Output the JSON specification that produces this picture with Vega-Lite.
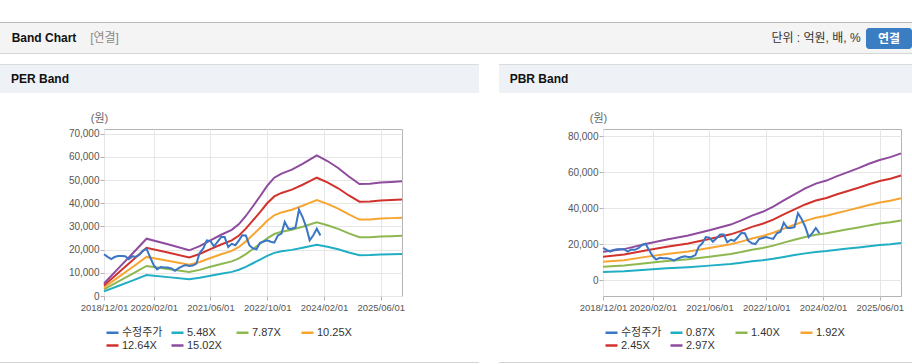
{
  "$schema": "https://vega.github.io/schema/vega-lite/v6.json",
  "background": "#ffffff",
  "padding": {"left": 0, "top": 22, "right": 0, "bottom": 0},
  "config": {
    "font": "Liberation Sans, Noto Sans CJK KR",
    "view": {"stroke": null},
    "concat": {"spacing": 0},
    "axis": {"labelFont": "Liberation Sans, Noto Sans CJK KR", "titleFont": "Liberation Sans, Noto Sans CJK KR"},
    "legend": {"labelFont": "Liberation Sans, Noto Sans CJK KR"},
    "text": {"font": "Liberation Sans, Noto Sans CJK KR"}
  },
  "datasets": {
    "price": [
      {"d":"2018-12-01","v":18000},{"d":"2019-01-01","v":16900},{"d":"2019-02-01","v":15900},{"d":"2019-03-01","v":16800},
      {"d":"2019-04-01","v":17200},{"d":"2019-05-01","v":17200},{"d":"2019-06-01","v":17100},{"d":"2019-07-01","v":15900},
      {"d":"2019-08-01","v":17100},{"d":"2019-09-01","v":16900},{"d":"2019-10-01","v":17800},{"d":"2019-11-01","v":19600},
      {"d":"2019-12-01","v":20300},{"d":"2020-01-01","v":16700},{"d":"2020-02-01","v":13300},{"d":"2020-03-01","v":11500},
      {"d":"2020-04-01","v":12500},{"d":"2020-05-01","v":12300},{"d":"2020-06-01","v":12300},{"d":"2020-07-01","v":11900},
      {"d":"2020-08-01","v":10900},{"d":"2020-09-01","v":12000},{"d":"2020-10-01","v":12800},{"d":"2020-11-01","v":13300},
      {"d":"2020-12-01","v":12900},{"d":"2021-01-01","v":13100},{"d":"2021-02-01","v":14000},{"d":"2021-03-01","v":18600},
      {"d":"2021-04-01","v":20500},{"d":"2021-05-01","v":24000},{"d":"2021-06-01","v":23700},{"d":"2021-07-01","v":21400},
      {"d":"2021-08-01","v":23300},{"d":"2021-09-01","v":25400},{"d":"2021-10-01","v":25400},{"d":"2021-11-01","v":21100},
      {"d":"2021-12-01","v":22500},{"d":"2022-01-01","v":21900},{"d":"2022-02-01","v":24000},{"d":"2022-03-01","v":26200},
      {"d":"2022-04-01","v":26100},{"d":"2022-05-01","v":21900},{"d":"2022-06-01","v":20500},{"d":"2022-07-01","v":20100},
      {"d":"2022-08-01","v":22900},{"d":"2022-09-01","v":23500},{"d":"2022-10-01","v":24000},{"d":"2022-11-01","v":23400},
      {"d":"2022-12-01","v":23000},{"d":"2023-01-01","v":26100},{"d":"2023-02-01","v":26900},{"d":"2023-03-01","v":31900},
      {"d":"2023-04-01","v":29000},{"d":"2023-05-01","v":29000},{"d":"2023-06-01","v":29500},{"d":"2023-07-01","v":37200},
      {"d":"2023-08-01","v":34000},{"d":"2023-09-01","v":29700},{"d":"2023-10-01","v":24000},{"d":"2023-11-01","v":26200},
      {"d":"2023-12-01","v":29000},{"d":"2024-01-01","v":26100}
    ],
    "per": [
      {"d":"2018-12-01","s":"5.48X","v":1970},{"d":"2018-12-01","s":"7.87X","v":2829},{"d":"2018-12-01","s":"10.25X","v":3685},{"d":"2018-12-01","s":"12.64X","v":4544},{"d":"2018-12-01","s":"15.02X","v":5400},
      {"d":"2019-04-01","s":"5.48X","v":4305},{"d":"2019-04-01","s":"7.87X","v":6183},{"d":"2019-04-01","s":"10.25X","v":8053},{"d":"2019-04-01","s":"12.64X","v":9930},{"d":"2019-04-01","s":"15.02X","v":11800},
      {"d":"2019-08-01","s":"5.48X","v":6640},{"d":"2019-08-01","s":"7.87X","v":9536},{"d":"2019-08-01","s":"10.25X","v":12420},{"d":"2019-08-01","s":"12.64X","v":15316},{"d":"2019-08-01","s":"15.02X","v":18200},
      {"d":"2019-12-01","s":"5.48X","v":9012},{"d":"2019-12-01","s":"7.87X","v":12942},{"d":"2019-12-01","s":"10.25X","v":16856},{"d":"2019-12-01","s":"12.64X","v":20786},{"d":"2019-12-01","s":"15.02X","v":24700},
      {"d":"2020-06-01","s":"5.48X","v":8136},{"d":"2020-06-01","s":"7.87X","v":11685},{"d":"2020-06-01","s":"10.25X","v":15218},{"d":"2020-06-01","s":"12.64X","v":18767},{"d":"2020-06-01","s":"15.02X","v":22300},
      {"d":"2020-12-01","s":"5.48X","v":7188},{"d":"2020-12-01","s":"7.87X","v":10322},{"d":"2020-12-01","s":"10.25X","v":13444},{"d":"2020-12-01","s":"12.64X","v":16579},{"d":"2020-12-01","s":"15.02X","v":19700},
      {"d":"2021-03-01","s":"5.48X","v":7844},{"d":"2021-03-01","s":"7.87X","v":11265},{"d":"2021-03-01","s":"10.25X","v":14672},{"d":"2021-03-01","s":"12.64X","v":18093},{"d":"2021-03-01","s":"15.02X","v":21500},
      {"d":"2021-06-01","s":"5.48X","v":8756},{"d":"2021-06-01","s":"7.87X","v":12575},{"d":"2021-06-01","s":"10.25X","v":16378},{"d":"2021-06-01","s":"12.64X","v":20197},{"d":"2021-06-01","s":"15.02X","v":24000},
      {"d":"2021-09-01","s":"5.48X","v":9632},{"d":"2021-09-01","s":"7.87X","v":13833},{"d":"2021-09-01","s":"10.25X","v":18016},{"d":"2021-09-01","s":"12.64X","v":22217},{"d":"2021-09-01","s":"15.02X","v":26400},
      {"d":"2021-12-01","s":"5.48X","v":10398},{"d":"2021-12-01","s":"7.87X","v":14933},{"d":"2021-12-01","s":"10.25X","v":19449},{"d":"2021-12-01","s":"12.64X","v":23984},{"d":"2021-12-01","s":"15.02X","v":28500},
      {"d":"2022-02-01","s":"5.48X","v":11310},{"d":"2022-02-01","s":"7.87X","v":16243},{"d":"2022-02-01","s":"10.25X","v":21155},{"d":"2022-02-01","s":"12.64X","v":26088},{"d":"2022-02-01","s":"15.02X","v":31000},
      {"d":"2022-04-01","s":"5.48X","v":12587},{"d":"2022-04-01","s":"7.87X","v":18077},{"d":"2022-04-01","s":"10.25X","v":23543},{"d":"2022-04-01","s":"12.64X","v":29033},{"d":"2022-04-01","s":"15.02X","v":34500},
      {"d":"2022-06-01","s":"5.48X","v":14120},{"d":"2022-06-01","s":"7.87X","v":20278},{"d":"2022-06-01","s":"10.25X","v":26410},{"d":"2022-06-01","s":"12.64X","v":32568},{"d":"2022-06-01","s":"15.02X","v":38700},
      {"d":"2022-08-01","s":"5.48X","v":15689},{"d":"2022-08-01","s":"7.87X","v":22531},{"d":"2022-08-01","s":"10.25X","v":29344},{"d":"2022-08-01","s":"12.64X","v":36187},{"d":"2022-08-01","s":"15.02X","v":43000},
      {"d":"2022-10-01","s":"5.48X","v":17330},{"d":"2022-10-01","s":"7.87X","v":24889},{"d":"2022-10-01","s":"10.25X","v":32415},{"d":"2022-10-01","s":"12.64X","v":39974},{"d":"2022-10-01","s":"15.02X","v":47500},
      {"d":"2022-12-01","s":"5.48X","v":18607},{"d":"2022-12-01","s":"7.87X","v":26722},{"d":"2022-12-01","s":"10.25X","v":34803},{"d":"2022-12-01","s":"12.64X","v":42919},{"d":"2022-12-01","s":"15.02X","v":51000},
      {"d":"2023-02-01","s":"5.48X","v":19264},{"d":"2023-02-01","s":"7.87X","v":27666},{"d":"2023-02-01","s":"10.25X","v":36032},{"d":"2023-02-01","s":"12.64X","v":44434},{"d":"2023-02-01","s":"15.02X","v":52800},
      {"d":"2023-05-01","s":"5.48X","v":19884},{"d":"2023-05-01","s":"7.87X","v":28556},{"d":"2023-05-01","s":"10.25X","v":37192},{"d":"2023-05-01","s":"12.64X","v":45864},{"d":"2023-05-01","s":"15.02X","v":54500},
      {"d":"2023-08-01","s":"5.48X","v":20796},{"d":"2023-08-01","s":"7.87X","v":29866},{"d":"2023-08-01","s":"10.25X","v":38898},{"d":"2023-08-01","s":"12.64X","v":47968},{"d":"2023-08-01","s":"15.02X","v":57000},
      {"d":"2023-10-01","s":"5.48X","v":21453},{"d":"2023-10-01","s":"7.87X","v":30809},{"d":"2023-10-01","s":"10.25X","v":40126},{"d":"2023-10-01","s":"12.64X","v":49483},{"d":"2023-10-01","s":"15.02X","v":58800},
      {"d":"2023-12-01","s":"5.48X","v":22110},{"d":"2023-12-01","s":"7.87X","v":31753},{"d":"2023-12-01","s":"10.25X","v":41355},{"d":"2023-12-01","s":"12.64X","v":50998},{"d":"2023-12-01","s":"15.02X","v":60600},
      {"d":"2024-03-01","s":"5.48X","v":21234},{"d":"2024-03-01","s":"7.87X","v":30495},{"d":"2024-03-01","s":"10.25X","v":39717},{"d":"2024-03-01","s":"12.64X","v":48978},{"d":"2024-03-01","s":"15.02X","v":58200},
      {"d":"2024-06-01","s":"5.48X","v":20140},{"d":"2024-06-01","s":"7.87X","v":28923},{"d":"2024-06-01","s":"10.25X","v":37670},{"d":"2024-06-01","s":"12.64X","v":46454},{"d":"2024-06-01","s":"15.02X","v":55200},
      {"d":"2024-09-01","s":"5.48X","v":18790},{"d":"2024-09-01","s":"7.87X","v":26984},{"d":"2024-09-01","s":"10.25X","v":35145},{"d":"2024-09-01","s":"12.64X","v":43340},{"d":"2024-09-01","s":"15.02X","v":51500},
      {"d":"2024-12-01","s":"5.48X","v":17622},{"d":"2024-12-01","s":"7.87X","v":25308},{"d":"2024-12-01","s":"10.25X","v":32961},{"d":"2024-12-01","s":"12.64X","v":40647},{"d":"2024-12-01","s":"15.02X","v":48300},
      {"d":"2025-03-01","s":"5.48X","v":17659},{"d":"2025-03-01","s":"7.87X","v":25360},{"d":"2025-03-01","s":"10.25X","v":33029},{"d":"2025-03-01","s":"12.64X","v":40731},{"d":"2025-03-01","s":"15.02X","v":48400},
      {"d":"2025-06-01","s":"5.48X","v":17841},{"d":"2025-06-01","s":"7.87X","v":25622},{"d":"2025-06-01","s":"10.25X","v":33370},{"d":"2025-06-01","s":"12.64X","v":41152},{"d":"2025-06-01","s":"15.02X","v":48900},
      {"d":"2025-09-01","s":"5.48X","v":17951},{"d":"2025-09-01","s":"7.87X","v":25779},{"d":"2025-09-01","s":"10.25X","v":33575},{"d":"2025-09-01","s":"12.64X","v":41404},{"d":"2025-09-01","s":"15.02X","v":49200},
      {"d":"2025-12-01","s":"5.48X","v":18060},{"d":"2025-12-01","s":"7.87X","v":25937},{"d":"2025-12-01","s":"10.25X","v":33780},{"d":"2025-12-01","s":"12.64X","v":41657},{"d":"2025-12-01","s":"15.02X","v":49500}
    ],
    "pbr": [
      {"d":"2018-12-01","s":"0.87X","v":4658},{"d":"2018-12-01","s":"1.40X","v":7495},{"d":"2018-12-01","s":"1.92X","v":10279},{"d":"2018-12-01","s":"2.45X","v":13116},{"d":"2018-12-01","s":"2.97X","v":15900},
      {"d":"2019-06-01","s":"0.87X","v":5068},{"d":"2019-06-01","s":"1.40X","v":8155},{"d":"2019-06-01","s":"1.92X","v":11184},{"d":"2019-06-01","s":"2.45X","v":14271},{"d":"2019-06-01","s":"2.97X","v":17300},
      {"d":"2019-12-01","s":"0.87X","v":5888},{"d":"2019-12-01","s":"1.40X","v":9475},{"d":"2019-12-01","s":"1.92X","v":12994},{"d":"2019-12-01","s":"2.45X","v":16581},{"d":"2019-12-01","s":"2.97X","v":20100},
      {"d":"2020-06-01","s":"0.87X","v":6620},{"d":"2020-06-01","s":"1.40X","v":10653},{"d":"2020-06-01","s":"1.92X","v":14610},{"d":"2020-06-01","s":"2.45X","v":18643},{"d":"2020-06-01","s":"2.97X","v":22600},
      {"d":"2020-12-01","s":"0.87X","v":7265},{"d":"2020-12-01","s":"1.40X","v":11690},{"d":"2020-12-01","s":"1.92X","v":16032},{"d":"2020-12-01","s":"2.45X","v":20458},{"d":"2020-12-01","s":"2.97X","v":24800},
      {"d":"2021-06-01","s":"0.87X","v":8143},{"d":"2021-06-01","s":"1.40X","v":13104},{"d":"2021-06-01","s":"1.92X","v":17972},{"d":"2021-06-01","s":"2.45X","v":22933},{"d":"2021-06-01","s":"2.97X","v":27800},
      {"d":"2021-12-01","s":"0.87X","v":9052},{"d":"2021-12-01","s":"1.40X","v":14566},{"d":"2021-12-01","s":"1.92X","v":19976},{"d":"2021-12-01","s":"2.45X","v":25490},{"d":"2021-12-01","s":"2.97X","v":30900},
      {"d":"2022-03-01","s":"0.87X","v":9725},{"d":"2022-03-01","s":"1.40X","v":15650},{"d":"2022-03-01","s":"1.92X","v":21462},{"d":"2022-03-01","s":"2.45X","v":27387},{"d":"2022-03-01","s":"2.97X","v":33200},
      {"d":"2022-06-01","s":"0.87X","v":10516},{"d":"2022-06-01","s":"1.40X","v":16923},{"d":"2022-06-01","s":"1.92X","v":23208},{"d":"2022-06-01","s":"2.45X","v":29615},{"d":"2022-06-01","s":"2.97X","v":35900},
      {"d":"2022-09-01","s":"0.87X","v":11131},{"d":"2022-09-01","s":"1.40X","v":17912},{"d":"2022-09-01","s":"1.92X","v":24565},{"d":"2022-09-01","s":"2.45X","v":31347},{"d":"2022-09-01","s":"2.97X","v":38000},
      {"d":"2022-12-01","s":"0.87X","v":11952},{"d":"2022-12-01","s":"1.40X","v":19232},{"d":"2022-12-01","s":"1.92X","v":26376},{"d":"2022-12-01","s":"2.45X","v":33657},{"d":"2022-12-01","s":"2.97X","v":40800},
      {"d":"2023-03-01","s":"0.87X","v":12977},{"d":"2023-03-01","s":"1.40X","v":20882},{"d":"2023-03-01","s":"1.92X","v":28638},{"d":"2023-03-01","s":"2.45X","v":36544},{"d":"2023-03-01","s":"2.97X","v":44300},
      {"d":"2023-06-01","s":"0.87X","v":13973},{"d":"2023-06-01","s":"1.40X","v":22485},{"d":"2023-06-01","s":"1.92X","v":30836},{"d":"2023-06-01","s":"2.45X","v":39349},{"d":"2023-06-01","s":"2.97X","v":47700},
      {"d":"2023-09-01","s":"0.87X","v":14939},{"d":"2023-09-01","s":"1.40X","v":24040},{"d":"2023-09-01","s":"1.92X","v":32969},{"d":"2023-09-01","s":"2.45X","v":42071},{"d":"2023-09-01","s":"2.97X","v":51000},
      {"d":"2023-12-01","s":"0.87X","v":15701},{"d":"2023-12-01","s":"1.40X","v":25266},{"d":"2023-12-01","s":"1.92X","v":34650},{"d":"2023-12-01","s":"2.45X","v":44216},{"d":"2023-12-01","s":"2.97X","v":53600},
      {"d":"2024-03-01","s":"0.87X","v":16199},{"d":"2024-03-01","s":"1.40X","v":26067},{"d":"2024-03-01","s":"1.92X","v":35749},{"d":"2024-03-01","s":"2.45X","v":45618},{"d":"2024-03-01","s":"2.97X","v":55300},
      {"d":"2024-06-01","s":"0.87X","v":16931},{"d":"2024-06-01","s":"1.40X","v":27246},{"d":"2024-06-01","s":"1.92X","v":37365},{"d":"2024-06-01","s":"2.45X","v":47680},{"d":"2024-06-01","s":"2.97X","v":57800},
      {"d":"2024-09-01","s":"0.87X","v":17576},{"d":"2024-09-01","s":"1.40X","v":28283},{"d":"2024-09-01","s":"1.92X","v":38788},{"d":"2024-09-01","s":"2.45X","v":49495},{"d":"2024-09-01","s":"2.97X","v":60000},
      {"d":"2024-12-01","s":"0.87X","v":18220},{"d":"2024-12-01","s":"1.40X","v":29320},{"d":"2024-12-01","s":"1.92X","v":40210},{"d":"2024-12-01","s":"2.45X","v":51310},{"d":"2024-12-01","s":"2.97X","v":62200},
      {"d":"2025-03-01","s":"0.87X","v":18923},{"d":"2025-03-01","s":"1.40X","v":30451},{"d":"2025-03-01","s":"1.92X","v":41761},{"d":"2025-03-01","s":"2.45X","v":53290},{"d":"2025-03-01","s":"2.97X","v":64600},
      {"d":"2025-06-01","s":"0.87X","v":19538},{"d":"2025-06-01","s":"1.40X","v":31441},{"d":"2025-06-01","s":"1.92X","v":43119},{"d":"2025-06-01","s":"2.45X","v":55022},{"d":"2025-06-01","s":"2.97X","v":66700},
      {"d":"2025-09-01","s":"0.87X","v":20007},{"d":"2025-09-01","s":"1.40X","v":32195},{"d":"2025-09-01","s":"1.92X","v":44153},{"d":"2025-09-01","s":"2.45X","v":56342},{"d":"2025-09-01","s":"2.97X","v":68300},
      {"d":"2025-12-01","s":"0.87X","v":20622},{"d":"2025-12-01","s":"1.40X","v":33185},{"d":"2025-12-01","s":"1.92X","v":45511},{"d":"2025-12-01","s":"2.45X","v":58074},{"d":"2025-12-01","s":"2.97X","v":70400}
    ]
  },
  "spacing": 0,
  "resolve": {"scale": {"color": "independent"}, "legend": {"color": "independent"}},
  "vconcat": [
    {"width": 912, "height": 1, "data": {"values": []}, "mark": "text", "view": {"fill": "#b9b9b9"}},
    {"spacing": 0, "hconcat": [
      {"width": 88, "height": 30, "data": {"values": [{"t": "Band Chart"}]}, "mark": {"type": "text", "fontSize": 12, "fontWeight": "bold", "color": "#111111"}, "encoding": {"text": {"field": "t"}}, "view": {"fill": "#f4f4f4"}},
      {"width": 33, "height": 30, "data": {"values": [{"t": "[연결]"}]}, "mark": {"type": "text", "fontSize": 12, "color": "#8a8a8a"}, "encoding": {"text": {"field": "t"}}, "view": {"fill": "#f4f4f4"}},
      {"width": 645, "height": 30, "data": {"values": []}, "mark": "text", "view": {"fill": "#f4f4f4"}},
      {"width": 100, "height": 30, "data": {"values": [{"t": "단위 : 억원, 배, %"}]}, "mark": {"type": "text", "fontSize": 12, "color": "#333333"}, "encoding": {"text": {"field": "t"}}, "view": {"fill": "#f4f4f4"}},
      {"spacing": 0, "vconcat": [
        {"width": 46, "height": 5, "data": {"values": []}, "mark": "text", "view": {"fill": "#f4f4f4"}},
        {"width": 46, "height": 21, "data": {"values": [{"t": "연결"}]}, "mark": {"type": "text", "fontSize": 12, "fontWeight": "bold", "color": "#ffffff"}, "encoding": {"text": {"field": "t"}}, "view": {"fill": "#3b7dc2", "cornerRadius": 3}},
        {"width": 46, "height": 4, "data": {"values": []}, "mark": "text", "view": {"fill": "#f4f4f4"}}
      ]}
    ]},
    {"width": 912, "height": 1, "data": {"values": []}, "mark": "text", "view": {"fill": "#d6d6d6"}},
    {"width": 912, "height": 10, "data": {"values": []}, "mark": "text"},
    {"spacing": 20, "resolve": {"scale": {"color": "independent"}, "legend": {"color": "independent"}}, "hconcat": [
      {"spacing": 0, "resolve": {"scale": {"color": "independent"}, "legend": {"color": "independent"}}, "vconcat": [
        {"width": 479, "height": 1, "data": {"values": []}, "mark": "text", "view": {"fill": "#dcdcdc"}},
        {"spacing": 0, "hconcat": [
          {"width": 80, "height": 28, "data": {"values": [{"t": "PER Band"}]}, "mark": {"type": "text", "fontSize": 12, "fontWeight": "bold", "color": "#111111"}, "encoding": {"text": {"field": "t"}}, "view": {"fill": "#eef1f5"}},
          {"width": 399, "height": 28, "data": {"values": []}, "mark": "text", "view": {"fill": "#eef1f5"}}
        ]},
        {"width": 479, "height": 18, "data": {"values": []}, "mark": "text"},
        {"spacing": 0, "bounds": "flush", "resolve": {"scale": {"color": "independent"}, "legend": {"color": "independent"}}, "hconcat": [
          {"width": 104, "height": 1, "data": {"values": []}, "mark": "text"},
          {
            "width": 298, "height": 167,
            "view": {"stroke": "#b4b4b4", "fill": "#ffffff"},
            "encoding": {
              "x": {"field": "d", "type": "temporal",
                "scale": {"type": "utc", "domain": [{"year": 2018, "month": 12, "date": 1, "utc": true}, {"year": 2025, "month": 12, "date": 1, "utc": true}]},
                "axis": {"values": [{"year": 2018, "month": 12, "date": 1, "utc": true}, {"year": 2020, "month": 2, "date": 1, "utc": true}, {"year": 2021, "month": 6, "date": 1, "utc": true}, {"year": 2022, "month": 10, "date": 1, "utc": true}, {"year": 2024, "month": 2, "date": 1, "utc": true}, {"year": 2025, "month": 6, "date": 1, "utc": true}],
                  "format": "%Y/%m/%d", "title": null, "labelFontSize": 9.5, "labelColor": "#555555", "tickSize": 4, "tickColor": "#b4b4b4", "labelPadding": 2, "labelFlush": false, "labelOverlap": false, "domain": false, "grid": true, "gridColor": "#e6e6e6"}},
              "y": {"field": "v", "type": "quantitative",
                "scale": {"domain": [0, 72000], "nice": false, "zero": false},
                "axis": {"values": [0, 10000, 20000, 30000, 40000, 50000, 60000, 70000], "format": ",.0f", "title": "(원)", "titleAngle": 0, "titleX": -5, "titleY": -6, "titleAlign": "center", "titleBaseline": "bottom", "titleFontSize": 11, "titleFontWeight": "normal", "titleColor": "#666666", "labelFontSize": 10, "labelColor": "#555555", "tickSize": 4, "tickColor": "#b4b4b4", "labelPadding": 1, "domain": false, "grid": true, "gridColor": "#e6e6e6"}}
            },
            "layer": [
              {"data": {"name": "per"}, "mark": {"type": "line", "strokeWidth": 2},
               "encoding": {"color": {"field": "s", "type": "nominal",
                 "scale": {"domain": ["수정주가", "5.48X", "7.87X", "10.25X", "12.64X", "15.02X"], "range": ["#3a76c4", "#20aec4", "#8db851", "#f7a531", "#d2322d", "#8f4b9e"]},
                 "legend": {"title": null, "orient": "none", "legendX": 1, "legendY": 196, "direction": "horizontal", "columns": 4, "gridAlign": "all", "columnPadding": 3, "rowPadding": -1, "symbolType": "stroke", "symbolSize": 144, "symbolStrokeWidth": 2.5, "labelFontSize": 11, "labelColor": "#333333", "labelOffset": 2, "padding": 0}}}},
              {"data": {"name": "price"}, "mark": {"type": "line", "strokeWidth": 2},
               "encoding": {"color": {"datum": "수정주가"}}}
            ]
          }
        ]},
        {"width": 479, "height": 10, "data": {"values": []}, "mark": "text"},
        {"width": 479, "height": 1, "data": {"values": []}, "mark": "text", "view": {"fill": "#d4d4d4"}}
      ]},
      {"spacing": 0, "resolve": {"scale": {"color": "independent"}, "legend": {"color": "independent"}}, "vconcat": [
        {"width": 413, "height": 1, "data": {"values": []}, "mark": "text", "view": {"fill": "#dcdcdc"}},
        {"spacing": 0, "hconcat": [
          {"width": 80, "height": 28, "data": {"values": [{"t": "PBR Band"}]}, "mark": {"type": "text", "fontSize": 12, "fontWeight": "bold", "color": "#111111"}, "encoding": {"text": {"field": "t"}}, "view": {"fill": "#eef1f5"}},
          {"width": 333, "height": 28, "data": {"values": []}, "mark": "text", "view": {"fill": "#eef1f5"}}
        ]},
        {"width": 413, "height": 18, "data": {"values": []}, "mark": "text"},
        {"spacing": 0, "bounds": "flush", "resolve": {"scale": {"color": "independent"}, "legend": {"color": "independent"}}, "hconcat": [
          {"width": 104, "height": 1, "data": {"values": []}, "mark": "text"},
          {
            "width": 298, "height": 167,
            "view": {"stroke": "#b4b4b4", "fill": "#ffffff"},
            "encoding": {
              "x": {"field": "d", "type": "temporal",
                "scale": {"type": "utc", "domain": [{"year": 2018, "month": 12, "date": 1, "utc": true}, {"year": 2025, "month": 12, "date": 1, "utc": true}]},
                "axis": {"values": [{"year": 2018, "month": 12, "date": 1, "utc": true}, {"year": 2020, "month": 2, "date": 1, "utc": true}, {"year": 2021, "month": 6, "date": 1, "utc": true}, {"year": 2022, "month": 10, "date": 1, "utc": true}, {"year": 2024, "month": 2, "date": 1, "utc": true}, {"year": 2025, "month": 6, "date": 1, "utc": true}],
                  "format": "%Y/%m/%d", "title": null, "labelFontSize": 9.5, "labelColor": "#555555", "tickSize": 4, "tickColor": "#b4b4b4", "labelPadding": 2, "labelFlush": false, "labelOverlap": false, "domain": false, "grid": true, "gridColor": "#e6e6e6"}},
              "y": {"field": "v", "type": "quantitative",
                "scale": {"domain": [-8700, 83900], "nice": false, "zero": false},
                "axis": {"values": [0, 20000, 40000, 60000, 80000], "format": ",.0f", "title": "(원)", "titleAngle": 0, "titleX": -5, "titleY": -6, "titleAlign": "center", "titleBaseline": "bottom", "titleFontSize": 11, "titleFontWeight": "normal", "titleColor": "#666666", "labelFontSize": 10, "labelColor": "#555555", "tickSize": 4, "tickColor": "#b4b4b4", "labelPadding": 1, "domain": false, "grid": true, "gridColor": "#e6e6e6"}}
            },
            "layer": [
              {"data": {"name": "pbr"}, "mark": {"type": "line", "strokeWidth": 2},
               "encoding": {"color": {"field": "s", "type": "nominal",
                 "scale": {"domain": ["수정주가", "0.87X", "1.40X", "1.92X", "2.45X", "2.97X"], "range": ["#3a76c4", "#20aec4", "#8db851", "#f7a531", "#d2322d", "#8f4b9e"]},
                 "legend": {"title": null, "orient": "none", "legendX": 1, "legendY": 196, "direction": "horizontal", "columns": 4, "gridAlign": "all", "columnPadding": 3, "rowPadding": -1, "symbolType": "stroke", "symbolSize": 144, "symbolStrokeWidth": 2.5, "labelFontSize": 11, "labelColor": "#333333", "labelOffset": 2, "padding": 0}}}},
              {"data": {"name": "price"}, "mark": {"type": "line", "strokeWidth": 2},
               "encoding": {"color": {"datum": "수정주가"}}}
            ]
          }
        ]},
        {"width": 413, "height": 10, "data": {"values": []}, "mark": "text"},
        {"width": 413, "height": 1, "data": {"values": []}, "mark": "text", "view": {"fill": "#d4d4d4"}}
      ]}
    ]}
  ]
}
